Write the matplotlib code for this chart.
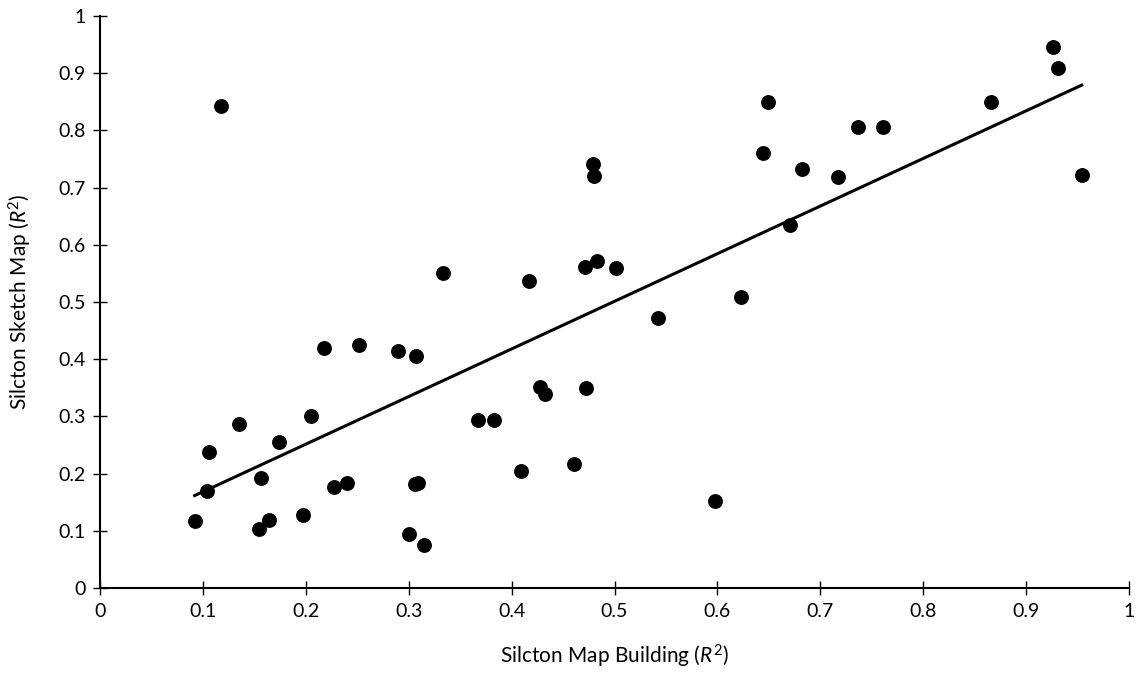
import numpy as np
import matplotlib
matplotlib.use("Agg")
import matplotlib.pyplot as plt

# Data
map_building = [0.092, 0.104, 0.106, 0.118, 0.135, 0.155, 0.156, 0.164, 0.174, 0.197,
                0.205, 0.218, 0.227, 0.240, 0.252, 0.290, 0.300, 0.306, 0.307, 0.309,
                0.315, 0.333, 0.367, 0.383, 0.409, 0.417, 0.428, 0.432, 0.461, 0.471,
                0.472, 0.479, 0.480, 0.483, 0.501, 0.542, 0.598, 0.623, 0.644, 0.649,
                0.671, 0.682, 0.717, 0.737, 0.761, 0.866, 0.926, 0.931, 0.954]
sketch_map = [0.117, 0.170, 0.237, 0.842, 0.287, 0.103, 0.192, 0.119, 0.256, 0.127,
              0.300, 0.419, 0.176, 0.183, 0.425, 0.414, 0.094, 0.182, 0.406, 0.184,
              0.076, 0.550, 0.294, 0.294, 0.205, 0.536, 0.352, 0.339, 0.216, 0.562,
              0.350, 0.742, 0.721, 0.571, 0.559, 0.472, 0.152, 0.509, 0.761, 0.850,
              0.634, 0.732, 0.719, 0.806, 0.806, 0.850, 0.945, 0.909, 0.722]
ticks = [0, 0.1, 0.2, 0.3, 0.4, 0.5, 0.6, 0.7, 0.8, 0.9, 1]
tick_labels = ["0", "0.1", "0.2", "0.3", "0.4", "0.5", "0.6", "0.7", "0.8", "0.9", "1"]

plt.rcParams['font.family'] = ['Lato', 'DejaVu Sans']
plt.rcParams['mathtext.fontset'] = 'custom'
plt.rcParams['mathtext.rm'] = 'Lato'
plt.rcParams['mathtext.it'] = 'Lato:italic'

fig = plt.figure(figsize=(11.39, 6.87), dpi=100)
ax = fig.add_axes([100/1139, 1-588/687, 1029/1139, 572/687])

x = np.array(map_building)
y = np.array(sketch_map)
ax.scatter(x, y, s=115, color='black', zorder=3, linewidths=0)

slope, intercept = np.polyfit(x, y, 1)
xl = np.array([x.min(), x.max()])
ax.plot(xl, slope*xl + intercept, color='black', lw=2.2, zorder=2)

ax.set_xlim(0, 1)
ax.set_ylim(0, 1)
ax.set_xticks(ticks)
ax.set_xticklabels(tick_labels)
ax.set_yticks(ticks)
ax.set_yticklabels(tick_labels)

for s in ['top', 'right']:
    ax.spines[s].set_visible(False)
for s in ['left', 'bottom']:
    ax.spines[s].set_linewidth(1.5)
    ax.spines[s].set_color('black')
    ax.spines[s].set_clip_on(False)

ax.tick_params(direction='inout', length=10, width=1, labelsize=14, colors='black')
ax.tick_params(axis='x', pad=6)
ax.tick_params(axis='y', pad=5)

ax.set_xlabel("Silcton Map Building ($\\it{R}^2$)", fontsize=15, labelpad=16)
ax.set_ylabel("Silcton Sketch Map ($\\it{R}^2$)", fontsize=15, labelpad=18)

fig.savefig("out.png", dpi=100)
